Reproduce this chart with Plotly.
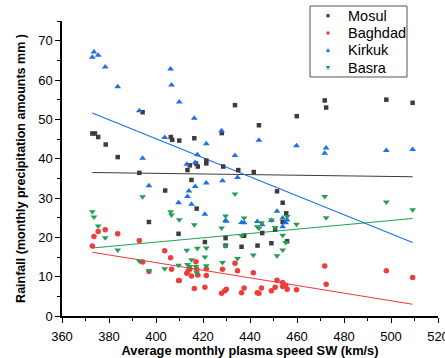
import plotly.graph_objects as go

# ---- data ----
mosul_x = [372.9, 374.0, 375.4, 378.6, 383.7, 392.9, 394.3, 397.0, 403.9, 406.3, 406.9, 409.9, 409.6,
           413.4, 414.4, 415.1, 416.3, 417.0, 417.3, 417.8, 420.8, 421.4, 421.4, 428.0, 428.6, 429.6,
           429.6, 433.6, 435.0, 436.4, 437.5, 441.6, 443.2, 443.8, 445.2, 449.1, 450.7, 451.5, 453.9,
           453.9, 455.4, 455.8, 459.9, 471.8, 472.4, 498.0, 509.2]
mosul_y = [46.4, 46.4, 45.5, 43.6, 40.4, 36.4, 51.8, 23.9, 31.9, 45.5, 44.8, 44.6, 20.9,
           37.1, 38.3, 34.6, 45.2, 38.8, 27.3, 38.0, 18.8, 39.5, 38.8, 46.5, 38.0, 19.8,
           17.9, 53.6, 37.1, 17.6, 20.4, 36.6, 17.9, 48.5, 21.1, 18.5, 22.0, 31.7, 28.8,
           23.9, 26.1, 19.0, 50.8, 54.8, 53.0, 55.0, 54.2]

baghdad_x = [372.9, 373.6, 375.4, 378.4, 383.7, 392.9, 394.3, 397.0, 403.7, 406.2, 406.6, 409.6, 409.9,
             413.1, 413.7, 414.4, 415.1, 416.3, 417.0, 417.3, 417.8, 420.8, 421.4, 421.4, 427.9, 428.3,
             429.3, 429.9, 433.6, 434.7, 436.4, 437.5, 441.4, 443.1, 443.8, 444.9, 449.1, 450.7, 451.5,
             453.9, 453.9, 455.2, 455.8, 459.8, 471.8, 472.4, 498.0, 509.2]
baghdad_y = [17.8, 20.2, 21.5, 21.9, 20.9, 19.2, 13.7, 11.3, 16.6, 14.8, 11.9, 9.0, 9.0,
             10.9, 11.5, 11.9, 10.2, 7.0, 13.8, 11.9, 10.4, 7.3, 12.0, 10.3, 5.8, 11.9,
             6.4, 6.8, 13.4, 11.5, 5.9, 7.1, 11.0, 5.9, 5.8, 7.1, 6.4, 7.3, 9.1,
             8.5, 7.5, 7.8, 6.8, 6.7, 12.7, 8.1, 11.5, 9.8]

kirkuk_x = [372.9, 373.6, 375.4, 378.4, 383.7, 392.9, 394.3, 397.0, 403.7, 406.2, 406.6, 409.6, 409.9,
            413.1, 413.4, 414.0, 415.1, 416.3, 416.7, 416.7, 417.6, 420.8, 421.4, 421.4, 427.9, 428.3,
            429.6, 429.9, 433.6, 434.7, 436.4, 437.5, 443.1, 443.8, 445.2, 449.1, 451.5, 453.9,
            453.9, 455.2, 455.8, 459.8, 471.8, 472.4, 498.0, 509.2]
kirkuk_y = [65.8, 67.1, 66.3, 63.3, 58.3, 52.2, 40.1, 33.1, 45.4, 62.8, 58.7, 28.8, 54.4,
            38.6, 30.4, 31.8, 28.4, 50.3, 39.0, 32.9, 41.0, 25.9, 43.8, 33.8, 47.1, 34.4,
            24.3, 24.1, 40.8, 35.2, 23.8, 23.7, 24.0, 44.7, 23.2, 24.3, 26.6, 24.9,
            22.7, 23.7, 24.4, 43.3, 41.4, 42.7, 42.1, 42.3]

basra_x = [372.9, 373.6, 375.4, 378.4, 383.7, 392.9, 394.3, 397.0, 403.7, 406.2, 406.6, 409.9, 409.6,
           413.1, 413.4, 414.4, 415.1, 416.3, 417.0, 417.3, 417.6, 420.8, 421.4, 421.4, 427.9, 428.3,
           429.6, 429.6, 433.6, 434.7, 436.4, 437.5, 441.4, 443.1, 443.8, 444.9, 449.1, 450.7, 451.5,
           453.9, 453.9, 455.2, 455.8, 459.8, 471.8, 472.4, 498.0, 509.2]
basra_y = [26.5, 25.2, 22.9, 19.9, 16.8, 14.0, 30.3, 11.5, 12.0, 26.5, 25.7, 24.5, 12.9,
           16.7, 13.1, 12.6, 14.3, 23.2, 12.6, 11.0, 17.2, 15.0, 17.3, 12.8, 22.4, 13.6,
           25.4, 17.8, 31.0, 14.6, 20.4, 24.9, 15.5, 22.7, 22.3, 23.7, 24.4, 22.5, 15.3,
           20.5, 16.8, 18.7, 25.3, 23.3, 30.4, 25.0, 29.0, 27.0]

# linear fit lines (end values)
fit_x = [372.9, 509.2]
mosul_fit = [36.5, 35.4]
baghdad_fit = [16.2, 3.0]
kirkuk_fit = [51.6, 18.7]
basra_fit = [17.3, 24.8]

names = ["Mosul", "Baghdad", "Kirkuk", "Basra"]
colors = ["#3c3c3c", "#f03c3c", "#1f6fe5", "#22a050"]
symbols = ["square", "circle", "triangle-up", "triangle-down"]
sizes = [4.5, 5.5, 6, 6]

FONT = "Liberation Sans, Arial, sans-serif"

fig = go.Figure()
series = [(mosul_x, mosul_y, mosul_fit), (baghdad_x, baghdad_y, baghdad_fit),
          (kirkuk_x, kirkuk_y, kirkuk_fit), (basra_x, basra_y, basra_fit)]
for (xs, ys, fy), n, c in zip(series, names, colors):
    fig.add_trace(go.Scatter(x=fit_x, y=fy, mode="lines", line=dict(color=c, width=1.1),
                             showlegend=False, hoverinfo="skip", name=n + " fit"))
for (xs, ys, fy), n, c, s, sz in zip(series, names, colors, symbols, sizes):
    fig.add_trace(go.Scatter(x=xs, y=ys, mode="markers", name=n, showlegend=False,
                             marker=dict(symbol=s, size=sz, color=c, line=dict(width=0))))

# ---- layout geometry (pixels) ----
W, H = 445, 358
ML, MR, MT, MB = 62, 7, 21, 42
PW, PH = W - ML - MR, H - MT - MB


def px(xp):
    return (xp - ML) / PW


def py(yp):
    return (H - MB - yp) / PH


# custom legend (box, glyphs, labels)
shapes = [dict(type="rect", xref="paper", yref="paper", x0=px(310), x1=px(407),
               y0=py(77), y1=py(6), line=dict(color="#555555", width=1), fillcolor="white",
               layer="above")]
annotations = []
row_y = [15.7, 33.0, 50.3, 67.7]
mx = 328
for n, c, s, ry in zip(names, colors, symbols, row_y):
    h = 1.6
    if s == "square":
        shapes.append(dict(type="rect", xref="paper", yref="paper", x0=px(mx - h), x1=px(mx + h),
                           y0=py(ry + h), y1=py(ry - h), fillcolor=c, line=dict(width=0), layer="above"))
    elif s == "circle":
        shapes.append(dict(type="circle", xref="paper", yref="paper", x0=px(mx - 1.8), x1=px(mx + 1.8),
                           y0=py(ry + 1.8), y1=py(ry - 1.8), fillcolor=c, line=dict(width=0), layer="above"))
    elif s == "triangle-up":
        path = f"M {px(mx - 2.2)} {py(ry + 1.8)} L {px(mx + 2.2)} {py(ry + 1.8)} L {px(mx)} {py(ry - 2.2)} Z"
        shapes.append(dict(type="path", xref="paper", yref="paper", path=path, fillcolor=c,
                           line=dict(width=0), layer="above"))
    else:
        path = f"M {px(mx - 2.2)} {py(ry - 1.8)} L {px(mx + 2.2)} {py(ry - 1.8)} L {px(mx)} {py(ry + 2.2)} Z"
        shapes.append(dict(type="path", xref="paper", yref="paper", path=path, fillcolor=c,
                           line=dict(width=0), layer="above"))
    annotations.append(dict(xref="paper", yref="paper", x=px(346), y=py(ry), text=n, showarrow=False,
                            xanchor="left", yanchor="middle",
                            font=dict(family=FONT, size=14.5, color="black")))

axis_common = dict(showline=True, linecolor="black", linewidth=1.5, ticks="outside",
                   ticklen=5, tickwidth=1.3, tickcolor="black", showgrid=False, zeroline=False,
                   ticklabeloverflow="allow", automargin=False,
                   tickfont=dict(family=FONT, size=13, color="black"))
fig.update_layout(
    width=W, height=H,
    margin=dict(l=ML, r=MR, t=MT, b=MB, autoexpand=False),
    paper_bgcolor="white", plot_bgcolor="white",
    xaxis=dict(range=[360, 520], dtick=20, tick0=360, ticklabelstandoff=3,
               minor=dict(dtick=10, ticks="outside", ticklen=3, tickcolor="black", tickwidth=1),
               title=dict(text="<b>Average monthly plasma speed SW (km/s)</b>", standoff=14,
                          font=dict(family=FONT, size=12.8, color="black")),
               **axis_common),
    yaxis=dict(range=[0, 75], dtick=10, tick0=0,
               minor=dict(dtick=5, ticks="outside", ticklen=3, tickcolor="black", tickwidth=1),
               title=dict(text="<b>Rainfall (monthly precipitation amounts mm )</b>", standoff=10,
                          font=dict(family=FONT, size=12.5, color="black")),
               **axis_common),
    shapes=shapes,
    annotations=annotations,
    showlegend=False,
)

fig.write_html("out.html")
